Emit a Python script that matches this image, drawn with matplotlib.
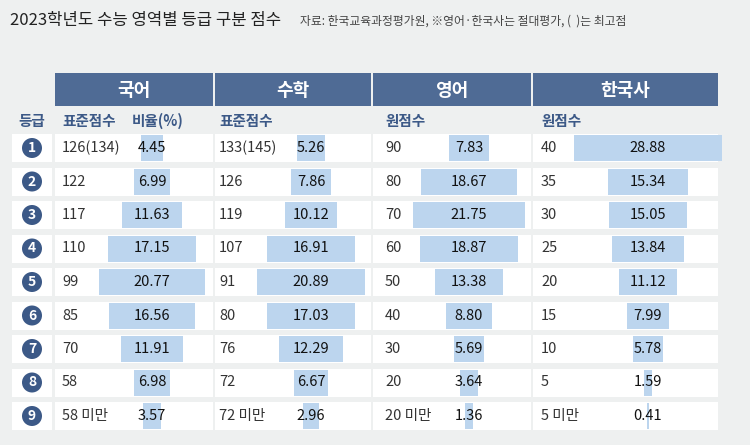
import matplotlib
matplotlib.use("Agg")
import matplotlib.pyplot as plt
from matplotlib.patches import Rectangle, Circle

plt.rcParams['font.family'] = ['Noto Sans CJK KR', 'DejaVu Sans']

grades = ['1','2','3','4','5','6','7','8','9']
subjects = ['국어', '수학', '영어', '한국사']
kor_score = ['126(134)','122','117','110','99','85','70','58','58 미만']
kor_pct = [4.45,6.99,11.63,17.15,20.77,16.56,11.91,6.98,3.57]
math_score = ['133(145)','126','119','107','91','80','76','72','72 미만']
math_pct = [5.26,7.86,10.12,16.91,20.89,17.03,12.29,6.67,2.96]
eng_score = ['90','80','70','60','50','40','30','20','20 미만']
eng_pct = [7.83,18.67,21.75,18.87,13.38,8.80,5.69,3.64,1.36]
hist_score = ['40','35','30','25','20','15','10','5','5 미만']
hist_pct = [28.88,15.34,15.05,13.84,11.12,7.99,5.78,1.59,0.41]
sub_labels = [['표준점수','비율(%)'],['표준점수'],['원점수'],['원점수']]

fig = plt.figure(figsize=(7.5,4.45), dpi=100)
fig.patch.set_facecolor('#eef0f0')
ax = fig.add_axes([0,0,1,1])
ax.set_xlim(0,750); ax.set_ylim(445,0); ax.axis('off')

cols = [(55,213),(215,371),(373,531),(533,718)]
bar_cx = [152,311,469,648]
score_x = [62,219,385,541]
scale = 5.15
header_c = '#4f6b95'
dark = '#3c5987'
row_y = [148+33.5*i for i in range(9)]
rh = 28

ax.text(10,20,'2023학년도 수능 영역별 등급 구분 점수',fontsize=12,va='center',ha='left',color='#222')
ax.text(300,21,'자료: 한국교육과정평가원, ※영어·한국사는 절대평가, (  )는 최고점',fontsize=8.5,va='center',ha='left',color='#444')

for (x0,x1),s in zip(cols,subjects):
    ax.add_patch(Rectangle((x0,73),x1-x0,33,color=header_c,lw=0))
    ax.text((x0+x1)/2,90,s,color='white',fontsize=13,fontweight='bold',ha='center',va='center')

ax.text(32,121,'등급',color=dark,fontsize=10.5,ha='center',va='center',fontweight='bold')
sub_x = [[62,132],[219],[385],[541]]
for xs,labs in zip(sub_x,sub_labels):
    for x,l in zip(xs,labs):
        ax.text(x,121,l,color=dark,fontsize=10.5,ha='left',va='center',fontweight='bold')

for y in row_y:
    ax.add_patch(Rectangle((12,y-rh/2),40,rh,color='white',lw=0))
    for x0,x1 in cols:
        ax.add_patch(Rectangle((x0,y-rh/2),x1-x0,rh,color='white',lw=0))

data = [(kor_score,kor_pct),(math_score,math_pct),(eng_score,eng_pct),(hist_score,hist_pct)]
for i,(sc,pc) in enumerate(data):
    w = [p*scale for p in pc]
    left = [bar_cx[i]-wi/2 for wi in w]
    ax.barh(row_y,w,left=left,height=rh-2,color='#bcd5ee',lw=0)
    for y,s,p in zip(row_y,sc,pc):
        ax.text(score_x[i],y,s,fontsize=10.5,color='#333',ha='left',va='center')
        ax.text(bar_cx[i],y,f'{p:.2f}',fontsize=10.5,color='#111',ha='center',va='center',fontweight='medium')

for y,g in zip(row_y,grades):
    ax.add_patch(Circle((32,y),10,color=dark,lw=0))
    ax.text(32,y,g,color='white',fontsize=10,fontweight='bold',ha='center',va='center')

fig.savefig('out.png',dpi=100,facecolor=fig.get_facecolor())
